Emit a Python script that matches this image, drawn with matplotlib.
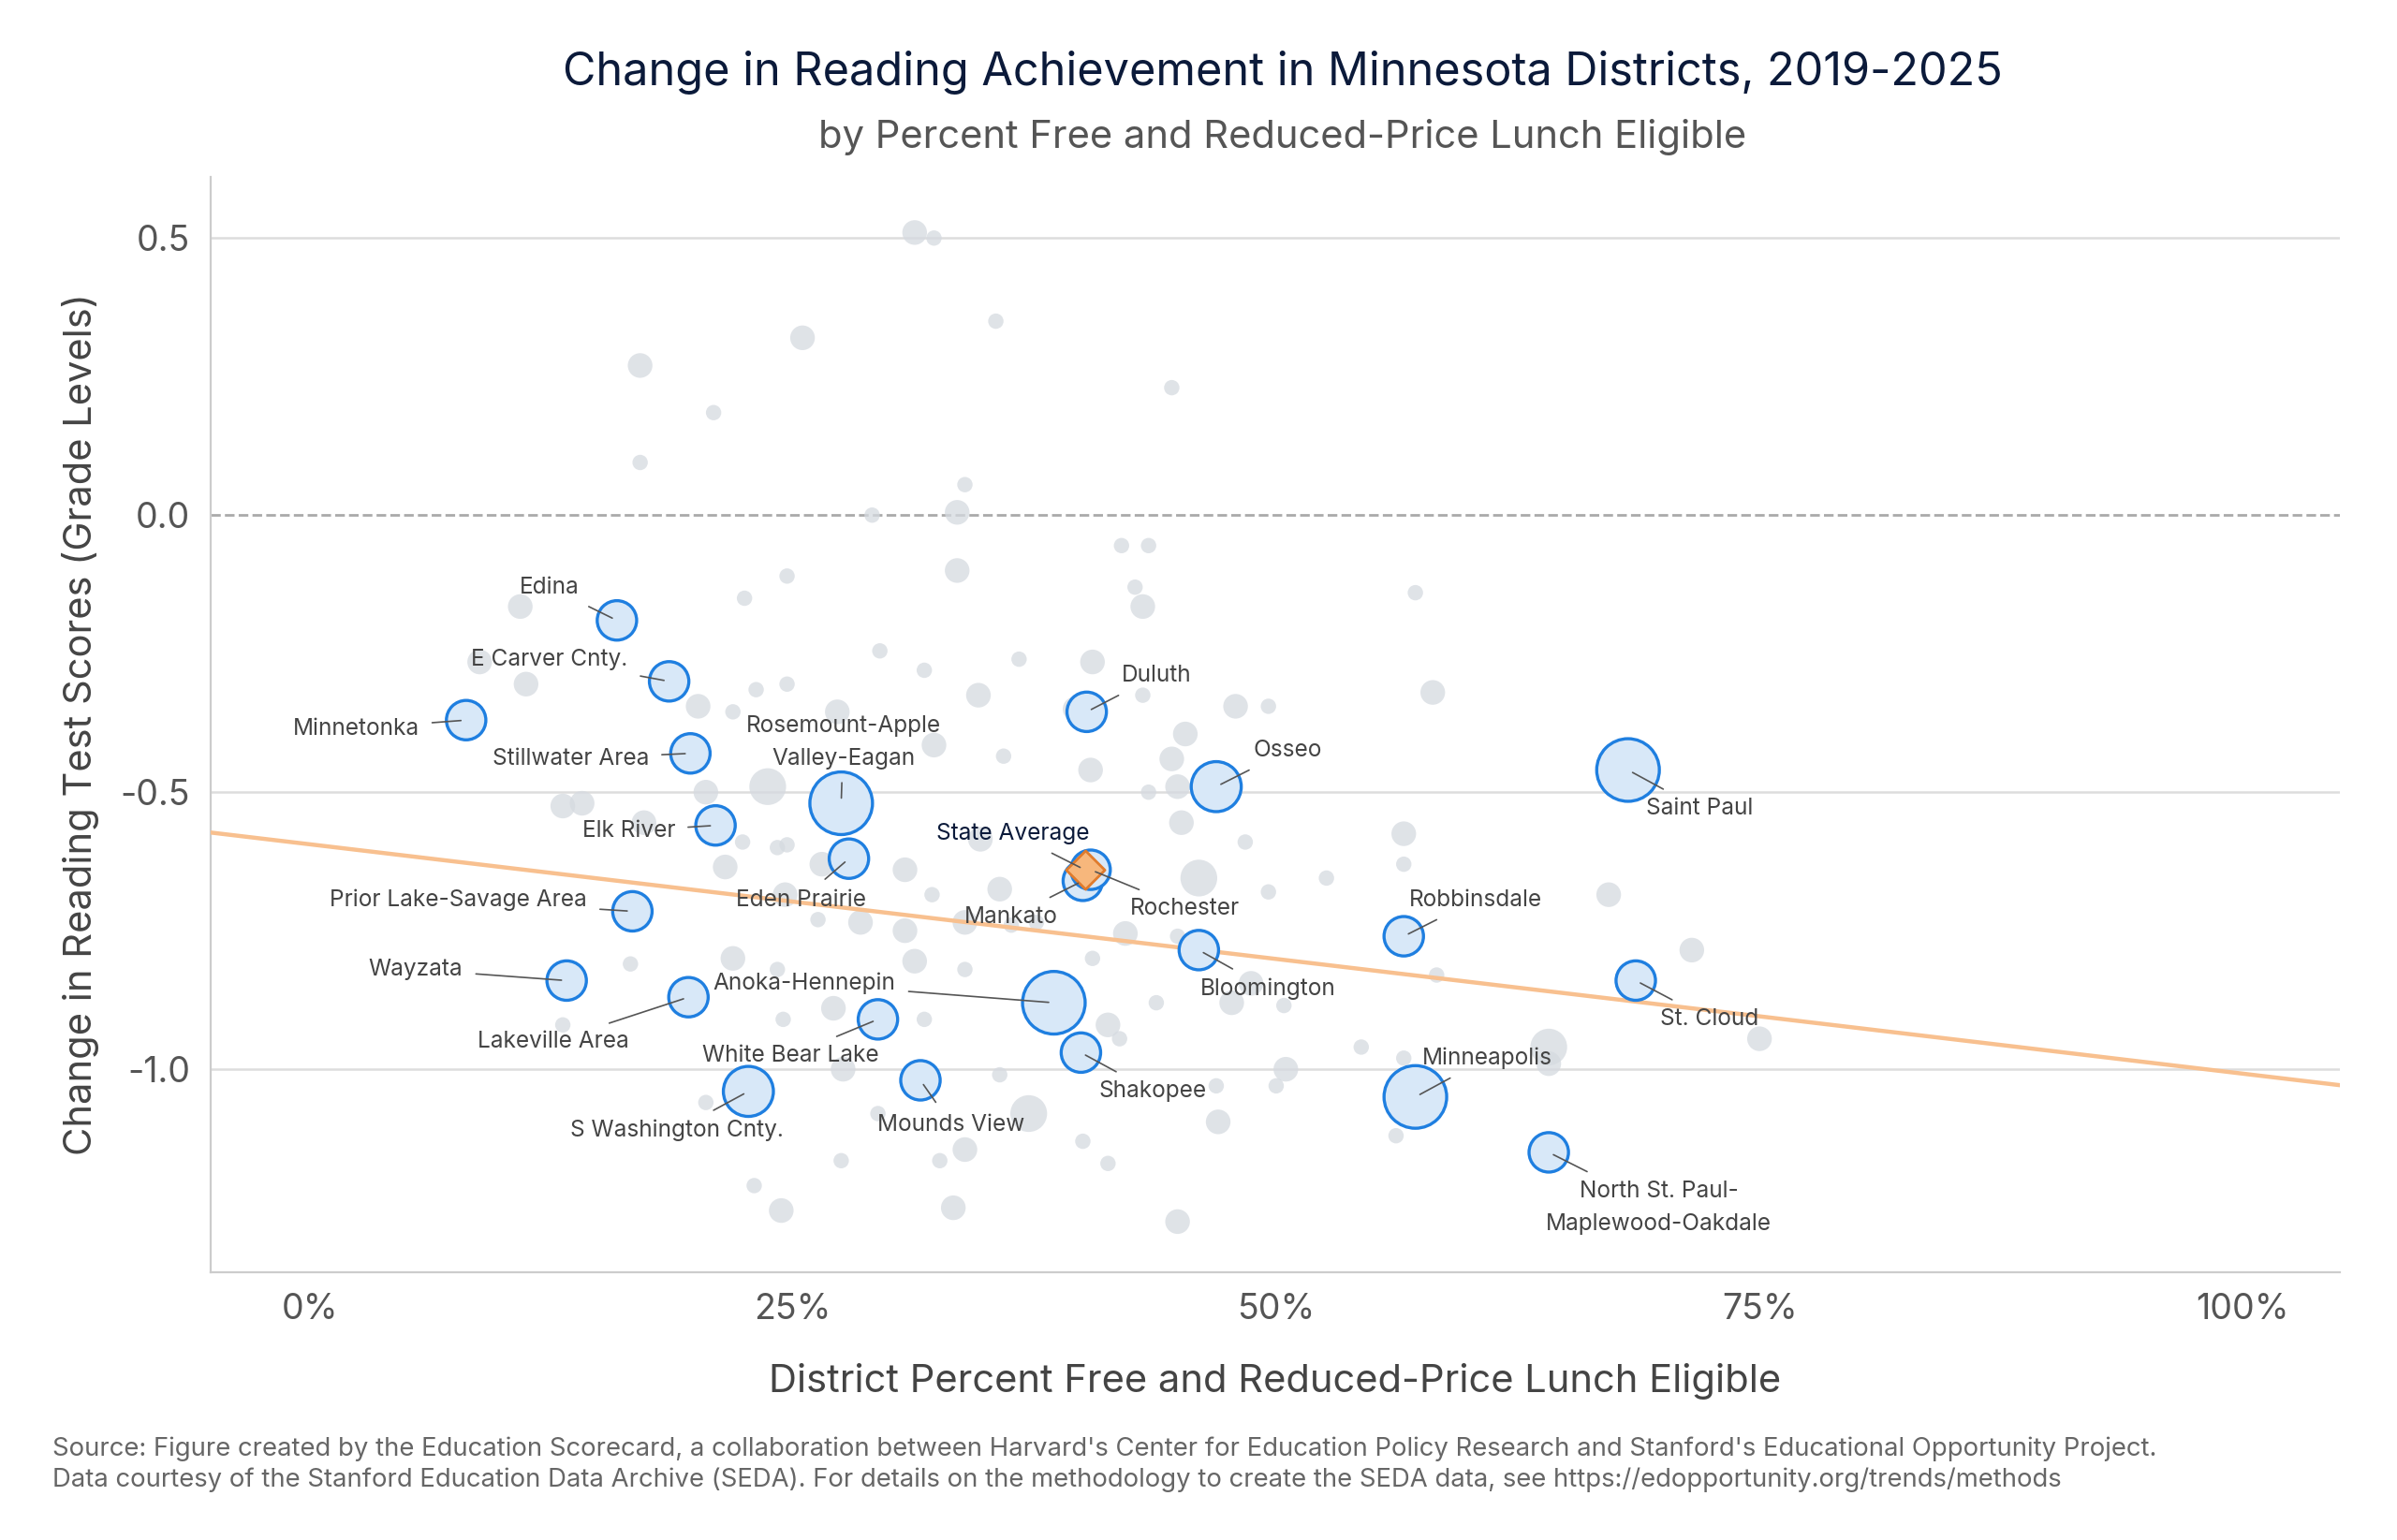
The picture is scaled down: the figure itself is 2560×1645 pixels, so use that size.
import matplotlib
matplotlib.use("Agg")
import matplotlib.pyplot as plt
from matplotlib.ticker import FuncFormatter

plt.rcParams['font.family'] = ['Inter', 'DejaVu Sans']

# background districts: percent FRL, change in grade levels, size class (1 small .. 3 large)
bg_x = [31.3, 32.3, 25.5, 35.5, 17.1, 44.6, 20.9, 17.1, 33.9, 33.5, 29.1, 42.0, 43.4, 33.5, 24.7,
        22.5, 42.7, 43.1, 57.2, 10.9, 29.5, 31.8, 36.7, 40.5, 11.2, 23.1, 24.7, 20.1, 21.9, 34.6,
        43.1, 47.9, 49.6, 58.1, 27.3, 39.6, 32.3, 45.3, 44.6, 35.9, 40.4, 23.7, 20.5, 43.4, 44.9,
        13.1, 14.1, 17.3, 22.4, 24.2, 24.7, 34.7, 45.1, 48.4, 56.6, 56.6, 21.5, 26.5, 30.8, 35.7,
        46.0, 52.6, 49.6, 67.2, 24.6, 32.2, 17.1, 28.5, 26.3, 33.9, 36.3, 37.6, 30.8, 42.2, 44.9,
        40.5, 31.3, 21.9, 16.6, 33.9, 71.5, 58.3, 48.7, 24.2, 47.7, 43.8, 50.4, 13.1, 24.5, 31.8,
        27.1, 41.3, 41.9, 54.4, 64.1, 64.1, 75.0, 56.6, 27.6, 50.5, 50.0, 35.7, 46.9, 20.5, 29.4,
        37.2, 47.0, 33.9, 32.6, 40.0, 41.3, 27.5, 56.2, 23.0, 24.4, 33.3, 44.9, 8.8]
bg_y = [0.51, 0.50, 0.32, 0.35, 0.27, 0.23, 0.185, 0.095, 0.055, 0.005, 0.00, -0.055, -0.055, -0.10, -0.11,
        -0.15, -0.13, -0.165, -0.14, -0.165, -0.245, -0.28, -0.26, -0.265, -0.305, -0.315, -0.305, -0.345, -0.355, -0.325,
        -0.325, -0.345, -0.345, -0.32, -0.355, -0.35, -0.415, -0.395, -0.44, -0.435, -0.46, -0.49, -0.50, -0.50, -0.49,
        -0.525, -0.52, -0.555, -0.59, -0.60, -0.595, -0.585, -0.555, -0.59, -0.575, -0.63, -0.635, -0.63, -0.64, -0.675,
        -0.655, -0.655, -0.68, -0.685, -0.685, -0.685, -0.715, -0.735, -0.73, -0.735, -0.74, -0.735, -0.75, -0.755, -0.76,
        -0.80, -0.805, -0.80, -0.81, -0.82, -0.785, -0.83, -0.845, -0.82, -0.88, -0.88, -0.885, -0.92, -0.91, -0.91,
        -0.89, -0.92, -0.945, -0.96, -0.96, -0.99, -0.945, -0.98, -1.0, -1.0, -1.03, -1.01, -1.03, -1.06, -1.08,
        -1.08, -1.095, -1.145, -1.165, -1.13, -1.17, -1.165, -1.12, -1.21, -1.255, -1.25, -1.275, -0.265]
bg_size = [2, 1, 2, 1, 2, 1, 1, 1, 1, 2, 1, 1, 1, 2, 1,
           1, 1, 2, 1, 2, 1, 1, 1, 2, 2, 1, 1, 2, 1, 2,
           1, 2, 1, 2, 2, 2, 2, 2, 2, 1, 2, 3, 2, 1, 2,
           2, 2, 2, 1, 1, 1, 2, 2, 1, 2, 1, 2, 2, 2, 2,
           3, 1, 1, 2, 2, 1, 1, 2, 1, 2, 1, 1, 2, 2, 1,
           1, 2, 2, 1, 1, 2, 1, 2, 1, 2, 1, 1, 1, 1, 1,
           2, 2, 1, 1, 3, 2, 2, 1, 2, 2, 1, 1, 1, 1, 1,
           3, 2, 2, 1, 1, 1, 1, 1, 1, 2, 2, 2, 2]

# labelled districts
names = ["Edina", "E Carver Cnty.", "Minnetonka", "Stillwater Area", "Rosemount-Apple\nValley-Eagan",
         "Elk River", "Eden Prairie", "Mankato", "Rochester", "Duluth", "Osseo", "Saint Paul",
         "Prior Lake-Savage Area", "Robbinsdale", "Bloomington", "Wayzata", "St. Cloud",
         "Anoka-Hennepin", "Lakeville Area", "White Bear Lake", "Shakopee", "Minneapolis",
         "Mounds View", "S Washington Cnty.", "North St. Paul-\nMaplewood-Oakdale"]
hl_x = [15.9, 18.6, 8.1, 19.7, 27.5, 21.0, 27.9, 40.0, 40.4, 40.2, 46.9, 68.2,
        16.7, 56.6, 46.0, 13.3, 68.6, 38.5, 19.6, 29.4, 39.9, 57.2, 31.6, 22.7, 64.1]
hl_y = [-0.19, -0.30, -0.37, -0.43, -0.52, -0.56, -0.62, -0.66, -0.64, -0.355, -0.49, -0.46,
        -0.715, -0.76, -0.785, -0.84, -0.84, -0.88, -0.87, -0.91, -0.97, -1.05, -1.02, -1.04, -1.15]
hl_size = [2, 2, 2, 2, 4, 2, 2, 2, 2, 2, 3, 4, 2, 2, 2, 2, 2, 4, 2, 2, 2, 4, 2, 3, 2]

state_x, state_y = 40.1, -0.64
trend_intercept, trend_slope = -0.594, -0.00414

# label positions (x, y)
lab_pos = [(12.4, -0.13), (12.4, -0.26), (2.4, -0.385), (13.5, -0.44), (27.6, -0.41),
           (16.5, -0.57), (25.4, -0.695), (36.3, -0.725), (45.3, -0.71), (43.8, -0.29),
           (50.6, -0.425), (71.9, -0.53), (7.7, -0.695), (60.3, -0.695), (49.6, -0.855),
           (5.5, -0.82), (72.4, -0.91), (25.6, -0.845), (12.6, -0.95), (24.9, -0.975),
           (43.6, -1.04), (60.9, -0.98), (33.2, -1.10), (19.0, -1.11), (69.8, -1.25)]

bg_s = {1: 35, 2: 90, 3: 200}
hl_s = {2: 230, 3: 370, 4: 580}

fig = plt.figure(figsize=(12.8, 8.225), dpi=200)
ax = fig.add_axes([0.088, 0.174, 0.894 - 0.006, 0.711])

ax.scatter(bg_x, bg_y, s=[bg_s[v] for v in bg_size], color='#d5dae0', alpha=0.75,
           edgecolors='none', zorder=2)

xs = [-5.1, 105]
ax.plot(xs, [trend_intercept + trend_slope * v for v in xs], color='#f8c08f', lw=1.6, zorder=3)
ax.axhline(0, color='#aaaaaa', ls='--', lw=1.0, zorder=1)
for g in [0.5, -0.5, -1.0]:
    ax.axhline(g, color='#dddddd', lw=0.9, zorder=0)

ax.scatter(hl_x, hl_y, s=[hl_s[v] for v in hl_size], facecolor='#d8e8f8',
           edgecolors='#1f7fe0', linewidths=1.2, zorder=4)
ax.scatter([state_x], [state_y], marker='D', s=110, facecolor='#f7b77c',
           edgecolors='#e07b2c', linewidths=1.0, zorder=6)

for n, x, y, (tx, ty) in zip(names, hl_x, hl_y, lab_pos):
    ax.annotate(n, xy=(x, y), xytext=(tx, ty), ha='center', va='center', fontsize=8.8,
                color='#444444', linespacing=1.7, zorder=7,
                arrowprops=dict(arrowstyle='-', color='#555555', lw=0.6, shrinkB=2, shrinkA=3))
ax.annotate("State Average", xy=(state_x, state_y), xytext=(36.4, -0.575), ha='center',
            va='center', fontsize=8.8, color='#0b1a3a', zorder=7,
            arrowprops=dict(arrowstyle='-', color='#555555', lw=0.6, shrinkA=3, shrinkB=2))

ax.set_xlim(-5.1, 105)
ax.set_ylim(-1.366, 0.61)
ax.set_xticks([0, 25, 50, 75, 100])
ax.xaxis.set_major_formatter(FuncFormatter(lambda v, p: f"{v:.0f}%"))
ax.set_yticks([0.5, 0.0, -0.5, -1.0])
ax.yaxis.set_major_formatter(FuncFormatter(lambda v, p: f"{v:.1f}"))
ax.tick_params(length=0, labelsize=13.5, labelcolor='#555555', pad=8)
for s in ['top', 'right']:
    ax.spines[s].set_visible(False)
for s in ['left', 'bottom']:
    ax.spines[s].set_color('#cccccc')

ax.set_xlabel("District Percent Free and Reduced-Price Lunch Eligible", fontsize=15,
              color='#444444', labelpad=14)
ax.set_ylabel("Change in Reading Test Scores (Grade Levels)", fontsize=15,
              color='#444444', labelpad=8)

fig.text(0.535, 0.953, "Change in Reading Achievement in Minnesota Districts, 2019-2025",
         ha='center', va='center', fontsize=17.5, color='#0b1a3a')
fig.text(0.535, 0.911, "by Percent Free and Reduced-Price Lunch Eligible",
         ha='center', va='center', fontsize=15, color='#555555')
fig.text(0.022, 0.059, "Source: Figure created by the Education Scorecard, a collaboration between Harvard's Center for Education Policy Research and Stanford's Educational Opportunity Project.",
         ha='left', va='center', fontsize=9.9, color='#666666')
fig.text(0.022, 0.039, "Data courtesy of the Stanford Education Data Archive (SEDA). For details on the methodology to create the SEDA data, see https://edopportunity.org/trends/methods",
         ha='left', va='center', fontsize=9.9, color='#666666')

fig.savefig("out.png", dpi=200, facecolor='white')
